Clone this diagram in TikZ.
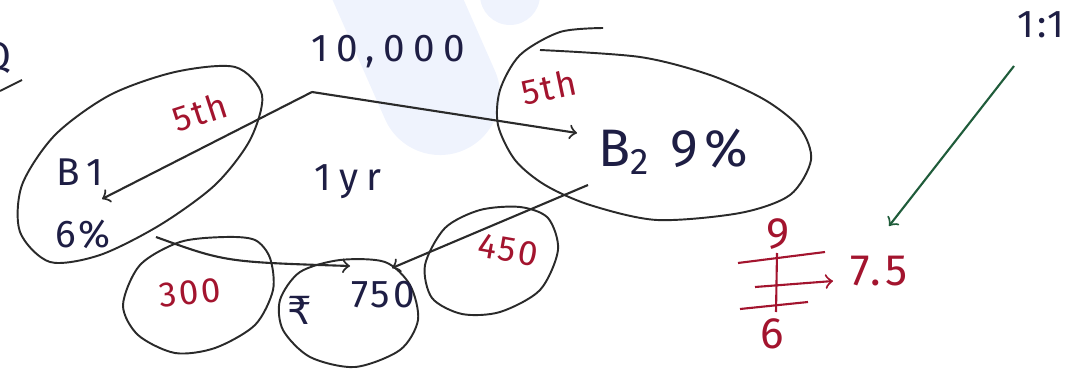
\documentclass[tikz,border=0pt]{standalone}
\usepackage{fontspec}
\setmainfont{Fira Sans}
\newfontfamily\rupeefont{DejaVu Sans}
\usetikzlibrary{arrows}
\definecolor{ink}{HTML}{1E1E44}
\definecolor{pen}{HTML}{2A2A2A}
\definecolor{redink}{HTML}{A3142E}
\definecolor{greenink}{HTML}{1F5C3A}
\definecolor{wmark}{HTML}{EFF3FD}
\tikzset{
  hand/.style={ink,inner sep=0pt,font=\fontsize{11}{13}\selectfont\addfontfeature{LetterSpace=22}},
  handtight/.style={ink,inner sep=0pt,font=\fontsize{11}{13}\selectfont\addfontfeature{LetterSpace=8}},
  handbig/.style={ink,inner sep=0pt,font=\fontsize{15}{17}\selectfont\addfontfeature{LetterSpace=12}},
  redhand/.style={redink,inner sep=0pt,font=\fontsize{10}{12}\selectfont\addfontfeature{LetterSpace=6}},
  redbig/.style={redink,inner sep=0pt,font=\fontsize{12.5}{14}\selectfont\addfontfeature{LetterSpace=10}},
  loop/.style={pen,line width=0.55pt},
  conn/.style={pen,line width=0.6pt,->},
  redline/.style={redink,line width=0.6pt}
}
\begin{document}
\begin{tikzpicture}[x=0.01cm,y=-0.01cm]
\useasboundingbox (0,0) rectangle (1079,382);
\draw[wmark,line width=1.2cm,line cap=round] (385,-30) -- (440,95);
\fill[wmark] (510,-5) circle (30);

\node[hand,anchor=east] (q) at (12,58) {Q};
\draw[loop] (0,91) -- (22,80);

\node[hand] (amt) at (388,52) {10,000};
\coordinate (split) at (312,92);
\coordinate (inb1) at (102,199);
\coordinate (inb2) at (577,133);
\draw[conn] (split) -- (inb1);
\draw[conn] (split) -- (inb2);

\draw[loop] plot[smooth cycle] coordinates {(262,95) (250,140) (215,185) (160,225) (100,255) (50,262) (20,232) (22,185) (55,135) (110,95) (175,72) (235,67)};
\node[redhand,rotate=18] (b1yr) at (200,112) {5th};
\node[hand] (b1) at (80,172) {B1};
\node[handtight] (b1r) at (83,234) {6\%};

\draw[loop] plot[smooth] coordinates {(603,28) (560,32) (520,55) (500,90) (498,125) (515,160) (545,185) (590,205) (657,220) (740,213) (790,195) (811,160) (800,128) (765,100) (710,75) (640,57) (540,50)};
\node[redhand,rotate=12] (b2yr) at (549,87) {5th};
\node[handbig] (b2) at (673,152) {B\textsubscript{2} 9\%};

\node[hand] (yr) at (348,182) {1yr};

\draw[loop] plot[smooth cycle] coordinates {(123,305) (140,265) (180,242) (225,237) (255,240) (270,258) (273,290) (255,325) (215,348) (175,353) (138,335)};
\node[redhand,rotate=6] (s300) at (190,293) {300};

\draw[loop] plot[smooth cycle] coordinates {(280,300) (300,272) (340,260) (385,262) (410,285) (418,320) (400,350) (355,367) (310,357) (283,330)};
\node[hand] (rs) at (300,310) {\rupeefont ₹};
\node[handtight] (s750) at (383,295) {750};

\draw[loop] plot[smooth cycle] coordinates {(425,265) (445,228) (480,210) (520,207) (548,218) (558,250) (540,290) (500,312) (462,314) (432,298)};
\node[redhand,rotate=-10] (s450) at (508,250) {450};

\coordinate (outb1) at (156,237);
\coordinate (outb2) at (588,185);
\coordinate (in750) at (350,266);
\coordinate (in750r) at (392,268);
\draw[conn] (outb1) .. controls (225,262) .. (in750);
\draw[conn] (outb2) -- (in750r);

\node[handtight] (ratio) at (1041,25) {1:1};
\coordinate (gfrom) at (1014,66);
\coordinate (gto) at (889,226);
\draw[greenink,line width=0.6pt,->] (gfrom) -- (gto);

\node[redbig] (nine) at (778,234) {9};
\node[redbig] (six) at (772,334) {6};
\node[redbig] (avg) at (879,271) {7.5};
\draw[redline] (777,253) -- (776,312);
\draw[redline] (738,263) -- (825,252);
\draw[redline] (740,309) -- (808,302);
\coordinate (midl) at (755,287);
\coordinate (midr) at (833,281);
\draw[redline,->] (midl) -- (midr);
\end{tikzpicture}
\end{document}
